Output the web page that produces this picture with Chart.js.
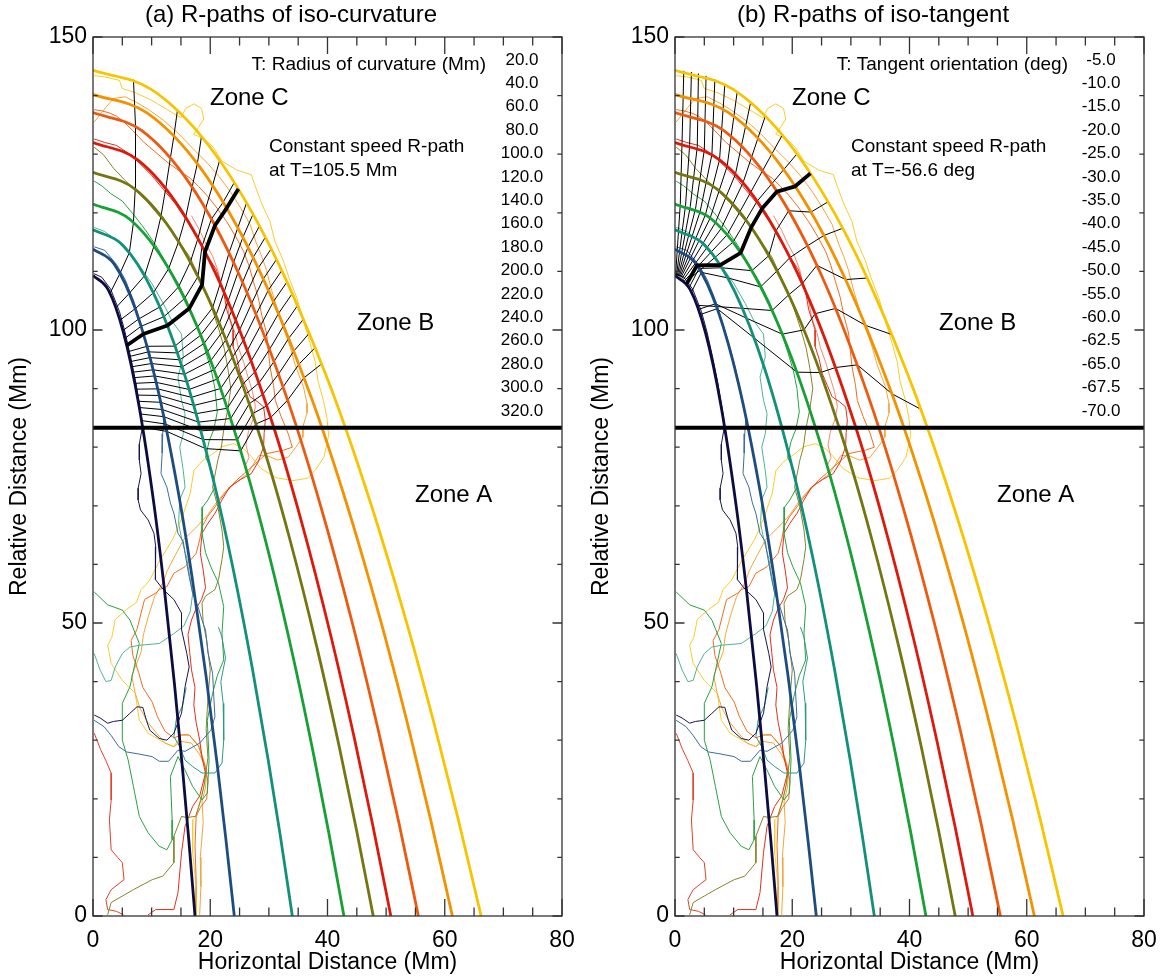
<!DOCTYPE html>
<html>
<head>
<meta charset="utf-8">
<script src="https://cdn.jsdelivr.net/npm/chart.js@4.4.1/dist/chart.umd.min.js"></script>
<style>
  html, body { margin: 0; padding: 0; background: #fff; }
  #wrap { display: flex; width: 1164px; height: 979px; }
  canvas { display: block; }
</style>
</head>
<body>
<div id="wrap">
  <canvas id="curvChart" width="582" height="979"></canvas>
  <canvas id="tangChart" width="582" height="979"></canvas>
</div>
<script>
// smooth R-path envelopes (x, y in Mm)
const navyCurve = [[0,109.3],[2.61,106.84],[5.22,99.46],[7.83,87.17],[10.44,69.95],[12.18,55.74],[13.92,39.35],[15.31,24.66],[16.36,12.72],[17.4,0]];
const blueCurve = [[0,113.8],[3.62,111.24],[7.23,103.56],[10.85,90.76],[14.46,72.83],[16.87,58.04],[19.28,40.97],[21.21,25.67],[22.65,13.25],[24.1,0]];
const tealCurve = [[0,117.1],[5.1,114.47],[10.2,106.56],[15.3,93.39],[20.4,74.94],[23.8,59.72],[27.2,42.16],[29.92,26.42],[31.96,13.63],[34.0,0]];
const greenCurve = [[0,121.5],[6.42,118.77],[12.84,110.57],[19.26,96.9],[25.68,77.76],[29.96,61.97],[34.24,43.74],[37.66,27.41],[40.23,14.14],[42.8,0]];
const oliveCurve = [[0,126.9],[7.17,124.04],[14.34,115.48],[21.51,101.2],[28.68,81.22],[33.46,64.72],[38.24,45.68],[42.06,28.63],[44.93,14.77],[47.8,0]];
const redCurve = [[0,132],[7.62,129.03],[15.24,120.12],[22.86,105.27],[30.48,84.48],[35.56,67.32],[40.64,47.52],[44.7,29.78],[47.75,15.36],[50.8,0]];
const orangeRedCurve = [[0,137.1],[8.33,134.02],[16.65,124.76],[24.98,109.34],[33.3,87.74],[38.85,69.92],[44.4,49.36],[48.84,30.93],[52.17,15.96],[55.5,0]];
const orangeCurve = [[0,140.2],[9.2,137.05],[18.39,127.58],[27.59,111.81],[36.78,89.73],[42.91,71.5],[49.04,50.47],[53.94,31.63],[57.62,16.32],[61.3,0]];
const yellowCurve = [[0,144.3],[9.93,141.05],[19.86,131.31],[29.79,115.08],[39.72,92.35],[46.34,73.59],[52.96,51.95],[58.26,32.55],[62.23,16.8],[66.2,0]];

// observed contours (same in both panels)
const navyContour = [[0.2,109.6],[1.5,109],[3,107],[4.5,103.2],[5.5,99.5],[6.5,95],[7.3,91],[7.8,88],[8.3,85],[8.4,83.3],[7.9,80.5],[7.9,77.8],[8.2,75.5],[7.7,73],[7.7,71],[8.1,69.3],[9.4,67.6],[10.4,65.3],[10.7,63],[10.6,60],[10.7,57.4],[12,55.7],[13.8,54],[15.1,51.7],[15.1,48.9],[16,44.8],[16.4,42.5],[15.7,39.1],[15.1,34.6],[13.8,31.2],[12.6,30],[11.3,30.3],[9.7,31.7],[9.1,33.4],[8.5,35.6],[7.5,35.7],[6.2,34.5],[5,33.4],[3.5,33.2],[2.5,32.9],[1.2,33.8],[0.2,34.3]];
const blueContour = [[0.2,114.2],[2,113.6],[4,111.2],[5.5,108.6],[7,104.8],[8.2,101],[9.5,96.6],[10.3,93.5],[11,90.4],[11.6,87.5],[12.1,85],[11.9,82.3],[11.8,79],[11.6,75.5],[12.6,73.2],[13.2,70.5],[13.8,68.7],[14.5,65.3],[15.4,63.9],[15.7,61.9],[16.4,57.9],[17,55.1],[17.9,52.8],[18.6,50.5],[19.2,48.8],[19.6,45],[20.4,41.4],[20.6,37.5],[20.8,34],[20.1,31.7],[18.2,29.5],[15.7,28.1],[14.5,28.3],[12.9,26.4],[11.3,26.4],[10.1,27.2],[7.5,27.7],[5.7,28],[4.4,28.9],[3.1,30.8],[1.9,32.3],[0.2,33.4]];
const seaContour = [[0.2,44.8],[1.2,42],[2.2,40],[3.1,40.2],[3.8,42.5],[5,44.8],[6.3,45.9],[7.9,46.2],[11.3,46.5],[13.8,48.2],[15.5,49.5],[16.6,52],[17,55],[16.5,58],[16,61],[15.2,64],[14.6,67],[14.8,71],[15.7,73.2],[15.4,76],[14.8,80],[15.4,82.3],[15.7,85.7],[15.1,88],[14.5,92],[15.4,95.4],[15.1,99.3],[13.5,101.5],[12,104.5],[10,108],[8,110.8],[6,113.2],[4,115.3],[2,116.8],[0.2,117.5]];
const tealContour = [[21.4,49.3],[22,47.6],[22.6,44],[21.8,40],[22.2,36.3],[22.3,30],[22,26.1],[20.8,24.4],[18.6,24.4],[17,25.5],[15.7,26.6],[14.8,28.9],[13.8,30.6],[14.2,33.5],[15.3,36],[15.9,39]];
const greenContour = [[0.2,125.4],[1.5,124.6],[3,123.3],[5,122],[7,119.6],[9,117],[11,114],[13,110.5],[14.5,108],[16,105],[17.2,102],[18.2,99.5],[19.3,96],[20.2,93],[20.8,90],[21.2,86],[20.6,83],[19.8,81],[19.2,78.3],[20.3,76],[20.8,73.2],[19.6,71],[18.7,69.8],[18.6,65.3],[19.2,62],[20.1,59.6],[21.4,56.8],[22.3,52.8],[22,48.2],[22.3,43.7],[21.2,41],[20.4,38],[19.5,33.4],[19.8,26.6],[19.5,21],[18.6,19.8],[17,22.1],[15.7,24.9],[14.5,27.2],[13.2,23.8],[13.5,16.4],[13.5,13],[12.6,11.3],[11.3,11.9],[9.4,14.2],[7.9,17],[6.9,22.1],[6,26.6],[5,30],[5,36.3],[6.3,39.1],[7.9,46.5],[6.3,50.5],[5,52.2],[2.5,53.1],[0.2,55.3]];
const oliveContour = [[0.2,131.2],[1.8,129.9],[3.5,127.6],[5.5,125.5],[7.5,123.6],[9.2,121.9],[11,119.8],[13,117.5],[15,114.6],[16.5,112.5],[18,109.2],[19.3,106.5],[20.5,103],[21.5,100],[22.4,96.8],[23,93.5],[23.5,90],[23,86.5],[22.3,83],[21.9,80],[21.3,77.8],[20.4,73.2],[21.3,69.8],[22,65.9],[22.3,63],[22,60.8],[21.4,57.4],[20.8,55.7],[19.2,54.6],[18.6,53.4],[18.8,50],[19.4,47],[20,42],[19.6,37],[19.3,32],[19.6,27],[19,22.5],[18.4,19.8],[17.5,17],[16,16.8],[15.1,17],[13.8,13.6],[13.8,9.1],[11.9,6.8],[10.1,6.2],[6.9,4.5],[5,3.4],[3.1,2.3],[2.5,0.2]];
const redContour = [[0.2,132.6],[2,132],[4,131.5],[6,130.2],[8,128.4],[10,126.4],[12,124],[14,121.6],[16,118.6],[18,115.2],[19.5,112.6],[21,110.4],[22.2,107],[22.8,103.5],[23.9,100],[23.9,97.2],[24.6,95],[25.1,92.6],[26,90.5],[26.8,88.6],[28,87.8],[29.1,86.9],[29.4,84.6],[29.2,82.5],[29.1,80.1],[28.2,77.5],[27,75.5],[25.2,74.5],[23.3,73.2],[22,71],[20.8,68.7],[19.6,67],[18.6,65.3],[18.3,62],[18.8,59],[19.2,56],[18.5,54],[17.6,52.5],[16.8,50.5],[16.2,48],[16.5,45],[16.8,42],[17.4,39],[17.2,36],[17.6,33],[18.2,30],[18.6,27],[19.2,24.4],[18.2,20.5],[17,18.7],[15.7,15.3],[15.1,10.8],[14.5,4],[13.8,1.1],[10.7,1.1],[9.4,0.2]];
const redLowContour = [[0.2,31.2],[1.3,28.4],[2.2,26.5],[3.1,24.4],[3.1,19.8],[2.8,16.4],[3.1,11.3],[4.2,10],[5,9.1],[5.3,6.2],[3.1,4.5],[2.2,2.8],[2.5,1.1],[4,0.8],[5.2,0.2]];
const salmonContour = [[16.8,119.5],[18.2,117],[19.2,114.8],[20.4,112.6],[21.3,110.2],[21.9,107.4],[22.8,105],[23.3,102.2],[24.2,99.6],[24.8,97],[25.7,94.5],[26.5,91.8],[27.2,89.5],[27.7,87],[27.3,84.8],[26.5,82.6],[26.1,80.4],[26.6,78.2],[25.8,76.5]];
const orangeRedContour = [[0.2,137.6],[1.5,137.4],[2.9,137],[4,136.5],[5.2,135.6],[6.8,134],[8.6,132.1],[10.5,130.5],[12.6,128.7],[14.5,127.3],[16.6,125.9],[18,124.5],[19.4,123],[21,121],[22.8,118.5],[24.3,116],[25.7,113.4],[26.6,111],[27.3,108.5],[28.2,105.5],[28.8,102.5],[29.6,99.5],[29.9,96.5],[30.2,93.7],[30.8,90.5],[31.1,88],[32.1,85.2],[33.3,82.3],[34,80],[32.5,79.5],[29.6,78.9],[27.7,77.2],[25.8,75.5],[24.5,74.4],[22,71.5],[20.8,69.8],[19.5,68.1],[18.6,66.4],[18.2,64.2],[17.6,61.9],[15.7,59.6],[13.8,58.5],[12.6,56.2],[11.3,55.7],[10.7,55.1],[8.8,54],[8.2,51.7],[7.5,48.9],[6.5,47],[6.8,44.5],[7.8,41.5],[8.5,39],[10.1,36.5],[11,34],[12.3,31.5],[13.8,30.4],[15.1,30.9],[16.4,30.9],[18,29],[19,26],[19.6,23],[19.4,20],[18.3,18.5],[17.6,17],[17.4,12],[17.6,6],[17.5,0.2]];
const orangeContour = [[0.2,135.5],[1,136.5],[2.2,138],[3.5,139.5],[5.5,139.8],[7.5,138.8],[9.5,137.6],[12,135.8],[14.5,133.6],[17,131],[19.5,128.5],[21.5,126.2],[23.5,123.5],[25.2,120.8],[26.8,118],[27.8,115],[28.8,112.5],[29.6,110.2],[30.4,107],[31.3,104],[32.2,101.1],[33.6,97.2],[34.5,94],[35.9,90.3],[36.5,87.5],[36.5,85.8],[35.8,83.5],[35.8,81.7],[34.6,80],[33.3,78.3],[31.5,77.8],[29.8,78.5],[28.3,78.6],[26.4,75.5],[25.2,74.6],[23.3,73.2],[21.5,71.2],[19.6,68.5],[17.5,66.2],[15.5,64.3],[14,61.5],[12.7,59],[12,57],[10.5,54.5],[9.4,51],[8.6,48],[8.2,45],[7.4,43],[6.6,41],[7.2,38],[8,35.5],[9.4,33],[11,31],[12.3,29.5],[13.8,28.9],[15,29.8],[16.8,29.5],[18.2,27.5],[19.4,25],[19.2,22],[18.6,19.5],[18.8,16],[18.3,10],[18.4,5],[18.2,0.2]];
const yellowContour = [[0.2,143.4],[2,143.2],[4.5,142.6],[5,141.2],[7,140.6],[10,139.2],[13,137.4],[15,136.2],[15.8,137.8],[17.2,138.6],[18.5,137.8],[18.9,136],[18,134.6],[17.2,133.4],[19,132.6],[20.5,131.2],[22,128.8],[24.5,127.3],[27,126.5],[27.8,124.2],[28.8,121.5],[30.2,118.5],[31,115.2],[32.4,112],[33.4,109],[34.8,105.4],[35.9,101.5],[36.9,98.2],[37.9,94.6],[38.4,91.2],[39.3,88],[39.9,85],[40.2,82],[39.4,78.3],[38,76.2],[36.6,74.7],[34.1,74.3],[31.2,74.8],[28.6,76.4],[27,78.4],[25.6,79.8],[24,80.6],[22,80.1],[20.2,78.7],[18.6,77.6],[17.2,76],[16.6,72.2],[15.2,68],[13.6,64.3],[11.3,60.5],[9.6,57.2],[8.2,55.7],[7.4,53.5],[5.7,52.3],[3.8,50.6],[3.2,47.5],[2.5,46.2],[3.1,43.1],[5,40.2],[7.2,38],[7.9,33.4],[9.4,31.2],[12.3,29.5],[13.8,28.9],[15.1,30.9],[16.4,30.9],[18.2,28.9],[19.2,25.5],[18.9,22.1],[17.6,17],[17,16.4],[17,10.8],[17.6,5],[17.6,0.2]];

// zone A / zone B boundary
const zoneLine = [[0, 83.3], [80, 83.3]];

// (a) iso-curvature R-paths, one vertex per envelope (inner -> outer)
const curvaturePaths = [
  [[2.9,106.26],[4.6,109.65],[6.2,113.21],[6.9,118.34],[7.2,124.02],[7.3,129.27],[7.2,134.79],[7.1,138.32],[6.9,142.73]],
  [[3.9,103.81],[6.2,106.27],[8.8,109.26],[10.4,114.33],[11.6,119.43],[12.4,124.14],[13.2,129.34],[13.8,133.09],[14.4,137.47]],
  [[4.6,101.66],[7.2,103.64],[10.3,106.35],[12.9,110.46],[14.6,115.06],[15.8,119.23],[16.9,124.39],[17.8,128.38],[18.5,133.03]],
  [[5.1,99.91],[7.8,101.88],[11.4,103.94],[14.6,107.36],[16.6,111.6],[17.9,115.61],[19.2,120.69],[20.4,124.67],[21.6,128.94]],
  [[5.45,98.58],[8.2,100.63],[12.1,102.27],[15.6,105.36],[17.9,109.1],[18.6,114.3],[20.2,118.94],[22.2,121.81],[24.1,125.17]],
  [[6.0,96.3],[9.2,97.22],[14.0,97.25],[17.8,100.48],[20.4,103.79],[21.7,107.91],[23.2,113.14],[24.7,117.44],[26.2,121.7]],
  [[6.19,95.47],[9.46,96.27],[14.4,96.09],[18.37,99.12],[20.97,102.48],[22.36,106.43],[23.97,111.53],[25.57,115.81],[27.3,119.76]],
  [[6.38,94.61],[9.72,95.29],[14.8,94.91],[18.94,97.71],[21.54,101.13],[23.02,104.89],[24.74,109.86],[26.44,114.12],[28.4,117.74]],
  [[6.57,93.72],[9.98,94.28],[15.2,93.7],[19.51,96.25],[22.11,99.75],[23.68,103.32],[25.51,108.13],[27.31,112.37],[29.4,115.84]],
  [[6.76,92.8],[10.25,93.21],[15.6,92.45],[20.08,94.76],[22.68,98.33],[24.35,101.67],[26.28,106.36],[28.18,110.57],[30.4,113.87]],
  [[6.95,91.86],[10.51,92.16],[16.0,91.17],[20.65,93.22],[23.25,96.88],[25.01,100.01],[27.05,104.53],[29.05,108.71],[31.3,112.04]],
  [[7.14,90.9],[10.77,91.07],[16.4,89.85],[21.22,91.63],[23.82,95.39],[25.67,98.29],[27.82,102.65],[29.92,106.8],[32.2,110.16]],
  [[7.33,89.9],[11.03,89.96],[16.8,88.51],[21.78,90.03],[24.38,93.89],[26.33,96.54],[28.58,100.74],[30.78,104.85],[33.1,108.22]],
  [[7.52,88.89],[11.29,88.83],[17.2,87.13],[22.35,88.37],[24.95,92.33],[26.99,94.74],[29.35,98.76],[31.65,102.83],[34.0,106.23]],
  [[7.71,87.84],[11.55,87.66],[17.6,85.72],[22.92,86.65],[25.52,90.73],[27.65,92.89],[30.12,96.72],[32.52,100.74],[34.9,104.19]],
  [[7.9,86.77],[11.82,86.43],[18.0,84.28],[23.49,84.9],[26.09,89.09],[28.32,90.98],[30.89,94.63],[33.39,98.6],[35.9,101.86]],
  [[8.09,85.67],[12.08,85.21],[18.4,82.8],[24.06,83.1],[26.66,87.42],[28.98,89.04],[31.66,92.49],[34.26,96.41],[36.9,99.46]],
  [[8.28,84.55],[12.34,83.96],[18.8,81.3],[24.63,81.26],[27.23,85.72],[29.64,87.06],[32.43,90.29],[35.13,94.16],[37.9,97.0]],
  [[8.47,83.4],[12.6,82.69],[19.2,79.76],[25.2,79.38],[27.8,83.98],[30.3,85.04],[33.2,88.04],[36.0,91.85],[39.0,94.21]]
];
const curvatureSpeedPath = [[5.75,97.36],[8.6,99.31],[12.7,100.76],[16.4,103.66],[18.6,107.69],[19.1,113.34],[20.8,117.84],[22.8,120.8],[24.8,124.05]];

// (b) iso-tangent R-paths
const tangentPaths = [
  [[0.1,109.3],[0.9,121.45],[1.2,131.93],[1.5,144.23]],
  [[0.25,109.28],[1.8,121.29],[2.5,131.68],[2.8,144.04]],
  [[0.4,109.24],[2.6,121.05],[3.8,131.26],[4.0,143.77]],
  [[0.55,109.19],[3.5,120.69],[5.0,130.72],[5.3,143.37]],
  [[0.7,109.12],[4.3,120.27],[6.3,129.97],[6.8,142.78]],
  [[0.85,109.04],[5.2,119.71],[7.6,129.05],[8.5,141.92]],
  [[1.0,108.94],[6.0,119.11],[8.9,127.95],[10.6,140.6]],
  [[1.2,108.78],[6.9,118.34],[10.3,126.57],[12.9,138.82]],
  [[1.4,108.59],[7.9,117.36],[11.6,125.12],[15.4,136.49]],
  [[1.6,108.38],[8.9,116.25],[12.9,123.49],[18.3,133.27]],
  [[1.8,108.13],[9.9,115.0],[14.0,121.97],[20.8,130.05]],
  [[2.4,107.22],[4.1,110.51],[8.0,110.62],[13.1,110.12],[16.0,112.68],[17.2,116.87],[19.4,120.35],[23.2,120.12],[26.1,121.87]],
  [[2.8,106.47],[4.5,109.83],[9.0,108.89],[14.6,107.36],[17.4,110.08],[19.6,112.35],[22.6,114.37],[25.4,116.13],[28.6,117.36]],
  [[3.75,104.22],[7.07,104.01],[11.5,103.7],[16.55,103.33],[19.4,106.0],[21.7,107.91],[24.2,111.03],[29.1,108.61],[32.8,108.87]],
  [[4.0,103.52],[6.9,104.47],[12.2,102.02],[18.3,99.29],[22.0,100.02],[23.9,102.78],[27.4,103.68],[32.5,100.79],[37.0,99.22]],
  [[4.3,102.63],[7.2,103.64],[13.5,98.64],[20.8,92.8],[24.8,92.74],[27.4,93.6],[31.1,94.05],[37.0,89.12],[41.9,86.49]]
];
const tangentSpeedPath = [[2.0,107.86],[3.75,111.04],[7.7,111.09],[11.2,113.18],[13.0,117.51],[14.85,120.72],[17.4,123.62],[20.5,124.52],[23.1,126.73]];

// T labels listed down the right side
const curvatureValues = ['20.0','40.0','60.0','80.0','100.0','120.0','140.0','160.0','180.0','200.0','220.0','240.0','260.0','280.0','300.0','320.0'];
const tangentValues = ['-5.0','-10.0','-15.0','-20.0','-25.0','-30.0','-35.0','-40.0','-45.0','-50.0','-55.0','-60.0','-62.5','-65.0','-67.5','-70.0'];

const FONT = '"Liberation Sans", Arial, Helvetica, sans-serif';
const curves = [navyCurve, blueCurve, tealCurve, greenCurve, oliveCurve, redCurve, orangeRedCurve, orangeCurve, yellowCurve];
const curveColors = ['#0c0c42', '#1d4d80', '#12907a', '#17a034', '#757512', '#dc1a0c', '#ec5a10', '#f39200', '#f7c400'];
const contours = [navyContour, blueContour, seaContour, tealContour, greenContour, oliveContour, redContour, redLowContour, salmonContour, orangeRedContour, orangeContour, yellowContour];
const contourColors = ['#16164c', '#3d6c9a', '#4fb393', '#2a9a82', '#2ba043', '#85852a', '#e0301c', '#e0402c', '#f08a72', '#ef6c22', '#f5a53a', '#f8cc2c'];

function lineDataset(arr, color, width, order, smooth) {
  return {
    data: arr.map(p => ({ x: p[0], y: p[1] })),
    showLine: true,
    borderColor: color,
    borderWidth: width,
    pointRadius: 0,
    pointHoverRadius: 0,
    fill: false,
    order: order,
    tension: 0,
    cubicInterpolationMode: smooth ? 'monotone' : 'default',
    borderJoinStyle: 'round'
  };
}

function buildDatasets(paths, speedPath) {
  const sets = [];
  contours.forEach((c, i) => sets.push(lineDataset(c, contourColors[i], 1, 5, false)));
  paths.forEach(p => sets.push(lineDataset(p, '#000', 1, 4, false)));
  curves.forEach((c, i) => sets.push(lineDataset(c, curveColors[i], 2.8, 3, true)));
  sets.push(lineDataset(speedPath, '#000', 3.8, 2, false));
  sets.push(lineDataset(zoneLine, '#000', 4, 1, false));
  return sets;
}

// box with inward ticks on all four sides
const framePlugin = {
  id: 'frame',
  afterDatasetsDraw(chart) {
    const { ctx, chartArea: a, scales: { x, y } } = chart;
    ctx.save();
    ctx.strokeStyle = '#333';
    ctx.lineWidth = 1.3;
    ctx.strokeRect(a.left, a.top, a.right - a.left, a.bottom - a.top);
    ctx.beginPath();
    for (let v = 0; v <= 80; v += 5) {
      const px = x.getPixelForValue(v);
      const len = v % 20 === 0 ? 17 : 8.5;
      ctx.moveTo(px, a.bottom); ctx.lineTo(px, a.bottom - len);
      ctx.moveTo(px, a.top); ctx.lineTo(px, a.top + len);
    }
    for (let v = 0; v <= 150; v += 10) {
      const py = y.getPixelForValue(v);
      const len = v % 50 === 0 ? 9.5 : 4.7;
      ctx.moveTo(a.left, py); ctx.lineTo(a.left + len, py);
      ctx.moveTo(a.right, py); ctx.lineTo(a.right - len, py);
    }
    ctx.stroke();
    ctx.restore();
  }
};

function makeNotes(n) {
  return {
    id: 'notes',
    afterDraw(chart) {
      const ctx = chart.ctx;
      ctx.save();
      ctx.fillStyle = '#000';
      ctx.textBaseline = 'middle';
      ctx.font = '24px ' + FONT;
      ctx.textAlign = 'center';
      ctx.fillText(n.title, 291, 15);
      ctx.font = '19px ' + FONT;
      ctx.textAlign = 'right';
      ctx.fillText(n.header, 486, 65);
      ctx.font = '17px ' + FONT;
      ctx.textAlign = 'center';
      n.values.forEach((v, k) => ctx.fillText(v, n.valuesX, 60 + 23.4 * k));
      ctx.textAlign = 'left';
      ctx.font = '24px ' + FONT;
      ctx.fillText('Zone C', 210, 98);
      ctx.fillText('Zone B', 357, 323);
      ctx.fillText('Zone A', 415, 495);
      ctx.font = '19px ' + FONT;
      ctx.fillText('Constant speed R-path', 269, 147);
      ctx.fillText(n.speed, 269, 171);
      ctx.restore();
    }
  };
}

function makeChart(id, paths, speedPath, notes) {
  const tickFont = { family: FONT, size: 23 };
  return new Chart(document.getElementById(id), {
    type: 'scatter',
    data: { datasets: buildDatasets(paths, speedPath) },
    options: {
      responsive: false,
      animation: false,
      devicePixelRatio: 1,
      layout: { padding: { left: 0, right: 20, top: 37, bottom: 0 } },
      plugins: { legend: { display: false }, tooltip: { enabled: false } },
      scales: {
        x: {
          type: 'linear', min: 0, max: 80,
          grid: { display: false, drawTicks: false },
          border: { display: false },
          ticks: { stepSize: 20, font: tickFont, color: '#000', padding: 11, maxRotation: 0, autoSkip: false },
          title: { display: true, text: 'Horizontal Distance (Mm)', font: tickFont, color: '#000', padding: { top: 0, bottom: 3 } },
          afterFit: s => { s.height = 63; s.paddingLeft = 0; s.paddingRight = 0; }
        },
        y: {
          type: 'linear', min: 0, max: 150,
          grid: { display: false, drawTicks: false },
          border: { display: false },
          ticks: { stepSize: 50, font: tickFont, color: '#000', padding: 6 },
          title: { display: true, text: 'Relative Distance (Mm)', font: tickFont, color: '#000', padding: { top: 6, bottom: 0 } },
          afterFit: s => { s.width = 93; s.paddingTop = 0; s.paddingBottom = 0; }
        }
      }
    },
    plugins: [framePlugin, makeNotes(notes)]
  });
}

makeChart('curvChart', curvaturePaths, curvatureSpeedPath, {
  title: '(a) R-paths of iso-curvature',
  header: 'T: Radius of curvature (Mm)',
  values: curvatureValues,
  valuesX: 522,
  speed: 'at T=105.5 Mm'
});
makeChart('tangChart', tangentPaths, tangentSpeedPath, {
  title: '(b) R-paths of iso-tangent',
  header: 'T: Tangent orientation (deg)',
  values: tangentValues,
  valuesX: 519,
  speed: 'at T=-56.6 deg'
});
</script>
</body>
</html>
